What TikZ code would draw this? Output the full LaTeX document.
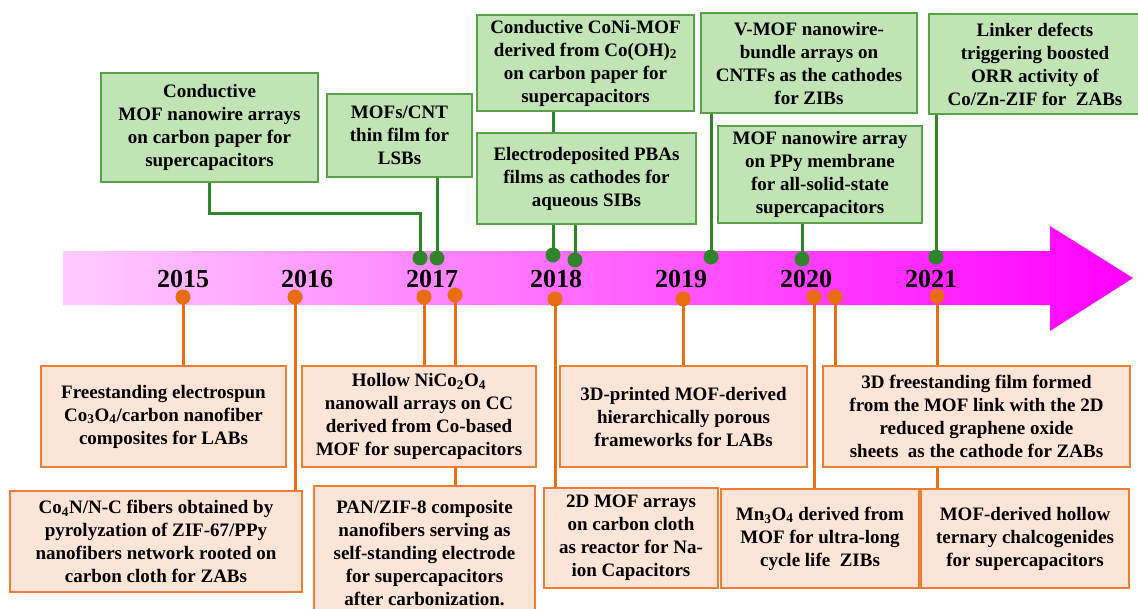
\documentclass[tikz,border=0pt]{standalone}
\usepackage{fontspec}
\setmainfont{Liberation Serif}
\usepackage{tikz}
\usetikzlibrary{calc,positioning}

\definecolor{gfill}{RGB}{193,228,181}
\definecolor{gedge}{RGB}{88,160,74}
\definecolor{gline}{RGB}{48,132,42}
\definecolor{ofill}{RGB}{252,228,214}
\definecolor{oedge}{RGB}{240,126,50}
\definecolor{oline}{RGB}{232,108,16}

\begin{document}
\begin{tikzpicture}[x=1pt,y=-1pt,
    gbox/.style={draw=gedge, fill=gfill, line width=1.5pt, align=center, inner sep=0pt,
        font=\fontsize{19}{23}\selectfont\bfseries},
    obox/.style={gbox, draw=oedge, fill=ofill},
    gcon/.style={draw=gline, line width=3pt},
    ocon/.style={draw=oline, line width=3pt},
    gdot/.style={circle, fill=gline, minimum size=15pt, inner sep=0pt},
    odot/.style={circle, fill=oline, minimum size=15pt, inner sep=0pt},
    year/.style={font=\fontsize{26}{26}\selectfont\bfseries, inner sep=0pt}]
        \useasboundingbox (0,0) rectangle (1138,608);

        \shade[left color=magenta!20, right color=magenta]
            (63,251) -- (1050,251) -- (1050,226) -- (1133,278) -- (1050,331) -- (1050,305) -- (63,305) -- cycle;

        \foreach \yr/\x in {2015/183, 2016/307, 2017/432, 2018/556, 2019/681, 2020/806, 2021/931}
            \node[year] (y\yr) at (\x,278.5) {\yr};

        \node[gbox, minimum width=217pt, minimum height=109pt] (cmof) at (209.5,127.5)
            {Conductive\\MOF nanowire arrays\\on carbon paper for\\supercapacitors};
        \node[gbox, minimum width=145pt, minimum height=83pt] (cnt) at (399.5,135.5)
            {MOFs/CNT\\thin film for\\LSBs};
        \node[gbox, minimum width=217pt, minimum height=96pt] (coni) at (585.5,63)
            {Conductive CoNi-MOF\\derived from Co(OH)\textsubscript{2}\\on carbon paper for\\supercapacitors};
        \node[gbox, minimum width=219pt, minimum height=91pt] (pba) at (586.5,178.5)
            {Electrodeposited PBAs\\films as cathodes for\\aqueous SIBs};
        \node[gbox, minimum width=216pt, minimum height=100pt] (vmof) at (809,63)
            {V-MOF nanowire-\\bundle arrays on\\CNTFs as the cathodes\\for ZIBs};
        \node[gbox, minimum width=204pt, minimum height=97pt] (ppy) at (820,174.5)
            {MOF nanowire array\\on PPy membrane\\for all-solid-state\\supercapacitors};
        \node[gbox, minimum width=212pt, minimum height=100pt] (lnk) at (1035,64)
            {Linker defects\\triggering boosted\\ORR activity of\\Co/Zn-ZIF for\ \ ZABs};

        \node[obox, minimum width=245pt, minimum height=101pt] (fre) at (163.5,416.5)
            {Freestanding electrospun\\Co\textsubscript{3}O\textsubscript{4}/carbon nanofiber\\composites for LABs};
        \node[obox, minimum width=292pt, minimum height=101pt] (con) at (156,541.5)
            {Co\textsubscript{4}N/N-C fibers obtained by\\pyrolyzation of ZIF-67/PPy\\nanofibers network rooted on\\carbon cloth for ZABs};
        \node[obox, minimum width=234pt, minimum height=101pt] (hol) at (419,416.5)
            {Hollow NiCo\textsubscript{2}O\textsubscript{4}\\nanowall arrays on CC\\derived from Co-based\\MOF for supercapacitors};
        \node[obox, minimum width=221pt, minimum height=134pt] (pan) at (424.5,553)
            {PAN/ZIF-8 composite\\nanofibers serving as\\self-standing electrode\\for supercapacitors\\after carbonization.};
        \node[obox, minimum width=247pt, minimum height=101pt] (prn) at (683.5,416.5)
            {3D-printed MOF-derived\\hierarchically porous\\frameworks for LABs};
        \node[obox, minimum width=174pt, minimum height=100pt] (two) at (631,538)
            {2D MOF arrays\\on carbon cloth\\as reactor for Na-\\ion Capacitors};
        \node[obox, minimum width=198pt, minimum height=99pt] (mn) at (820,538.5)
            {Mn\textsubscript{3}O\textsubscript{4} derived from\\MOF for ultra-long\\cycle life\ \ ZIBs};
        \node[obox, minimum width=307pt, minimum height=101pt] (fil) at (976.5,416.5)
            {3D freestanding film formed\\from the MOF link with the 2D\\reduced graphene oxide\\sheets\ \ as the cathode for ZABs};
        \node[obox, minimum width=208pt, minimum height=99pt] (hlw) at (1025,538.5)
            {MOF-derived hollow\\ternary chalcogenides\\for supercapacitors};

        \foreach \n/\x/\y in {g1/420/258, g2/437/258, g3/553/255, g4/575/260, g5/711/257, g6/802/259, g7/936/257}
            \node[gdot] (\n) at (\x,\y) {};
        \foreach \n/\x/\y in {o1/183/297, o2/295/297, o3/424/297, o4/455/295, o5/555/299, o6/683/299, o7/814/297, o8/835/297, o9/937/296}
            \node[odot] (\n) at (\x,\y) {};

        \draw[gcon] (cmof.south) -- ++(0,31) -| (g1.center);
        \draw[gcon] (cnt.south -| g2) -- (g2.center);
        \draw[gcon] (coni.south -| g3) -- (pba.north -| g3);
        \draw[gcon] (pba.south -| g3) -- (g3.center);
        \draw[gcon] (pba.south -| g4) -- (g4.center);
        \draw[gcon] (vmof.south -| g5) -- (g5.center);
        \draw[gcon] (ppy.south -| g6) -- (g6.center);
        \draw[gcon] (lnk.south -| g7) -- (g7.center);

        \draw[ocon] (o1.center) -- (fre.north -| o1);
        \draw[ocon] (o2.center) -- (con.north -| o2);
        \draw[ocon] (o3.center) -- (hol.north -| o3);
        \draw[ocon] (o4.center) -- (hol.north -| o4);
        \draw[ocon] (hol.south -| o4) -- (pan.north -| o4);
        \draw[ocon] (o5.center) -- (two.north -| o5);
        \draw[ocon] (o6.center) -- (prn.north -| o6);
        \draw[ocon] (o7.center) -- (mn.north -| o7);
        \draw[ocon] (o8.center) -- (fil.north -| o8);
        \draw[ocon] (o9.center) -- (fil.north -| o9);
        \draw[ocon] (fil.south -| o9) -- (hlw.north -| o9);
\end{tikzpicture}
\end{document}
